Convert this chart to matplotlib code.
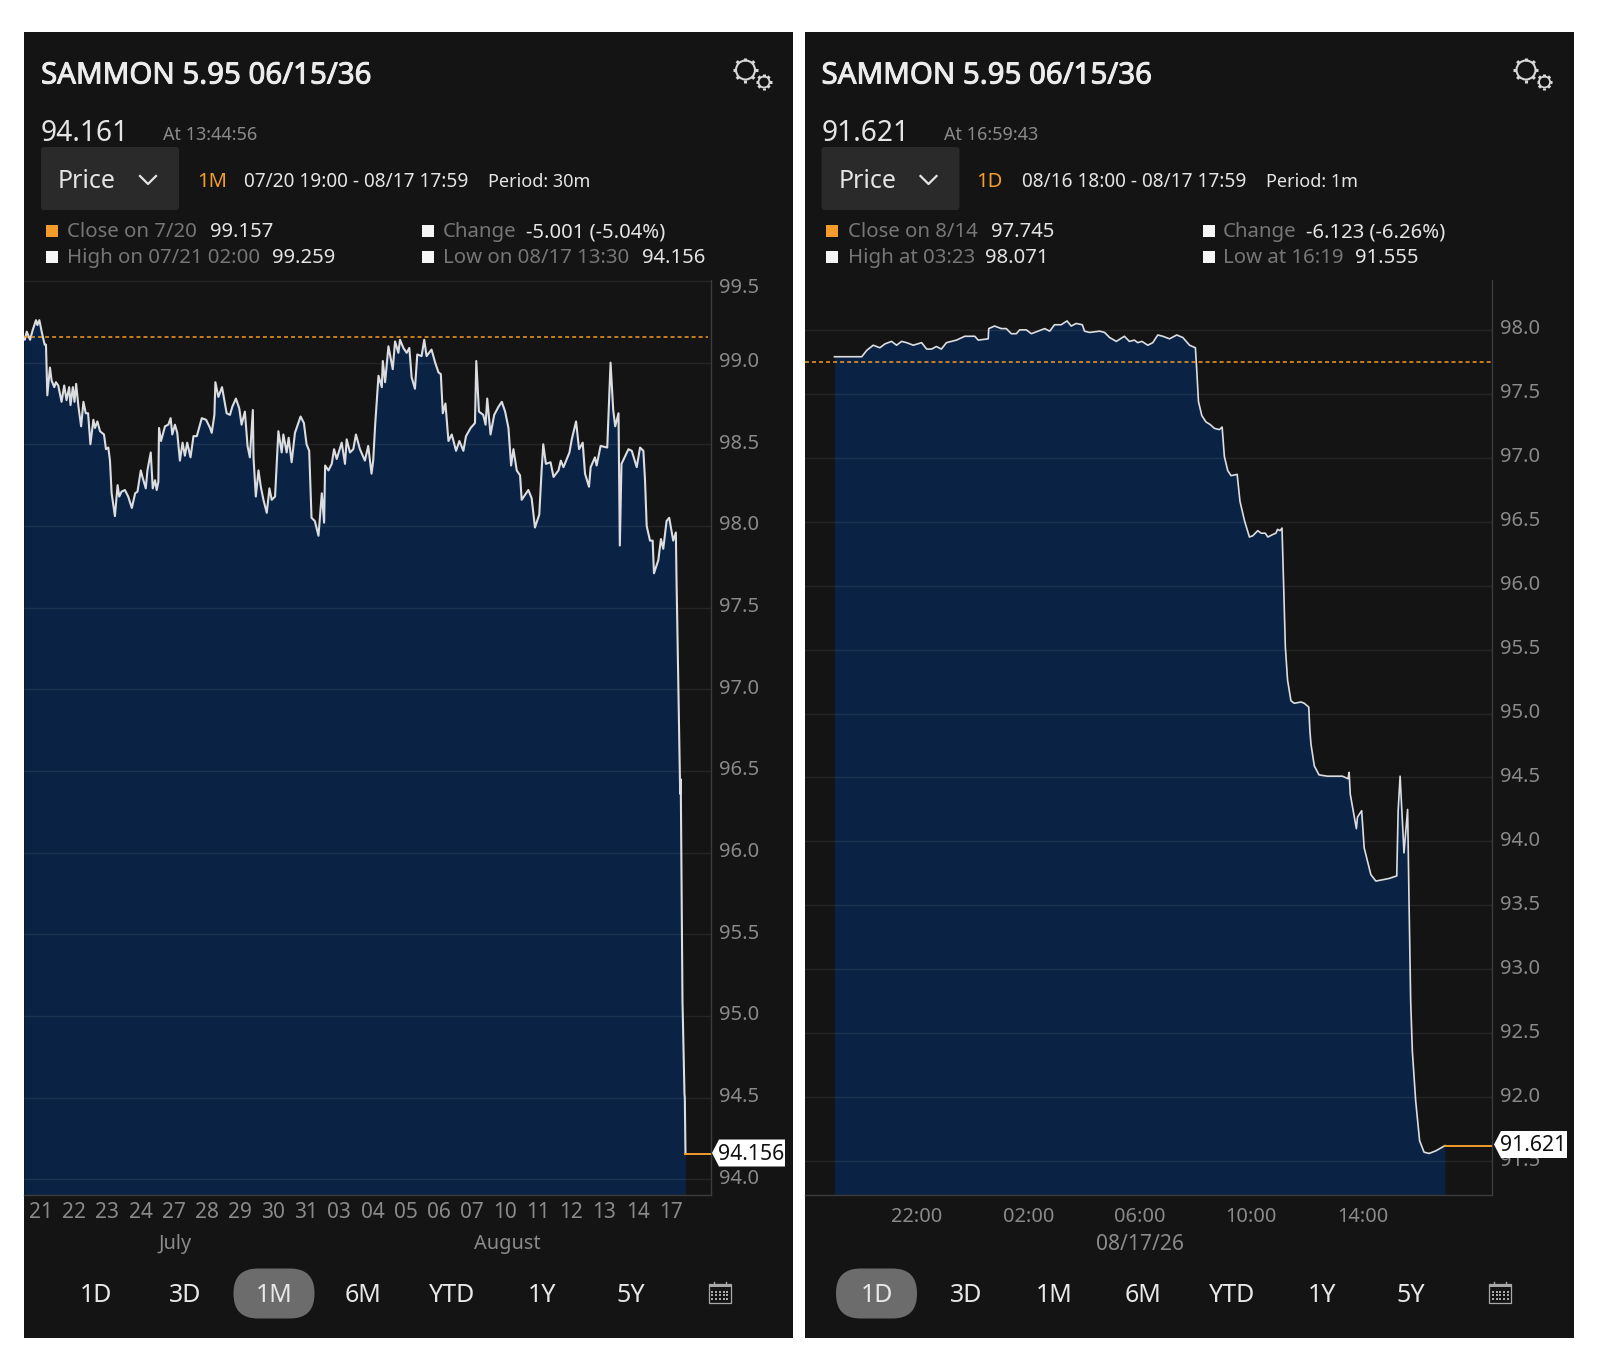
#!/usr/bin/env python3
"""Two dark price-chart screenshots of the SAMMON 5.95 06/15/36 bond."""

import matplotlib

matplotlib.use("Agg")
import matplotlib.patheffects as pe
import matplotlib.pyplot as plt
import numpy as np
from matplotlib.patches import Circle, FancyBboxPatch, Polygon, Rectangle
from matplotlib.transforms import ScaledTranslation

W, H = 1608, 1370

# 1M panel: x is the trading day counted from the "21" tick
month_days = [
    -0.51, -0.49, -0.43, -0.33, -0.25, -0.15, -0.11, -0.05, 0.03, 0.11, 0.15, 0.19, 0.27, 0.32, 0.40, 0.45,
    0.52, 0.62, 0.70, 0.77, 0.85, 0.89, 0.96, 1.01, 1.06, 1.13, 1.21, 1.28, 1.35, 1.42, 1.49, 1.58,
    1.63, 1.70, 1.78, 1.90, 1.96, 2.03, 2.08, 2.13, 2.23, 2.31, 2.36, 2.43, 2.53, 2.63, 2.74, 2.84,
    2.91, 3.01, 3.06, 3.16, 3.21, 3.31, 3.37, 3.44, 3.49, 3.54, 3.56, 3.62, 3.74, 3.84, 3.91, 3.96,
    4.04, 4.11, 4.19, 4.27, 4.34, 4.41, 4.51, 4.60, 4.70, 4.85, 4.98, 5.10, 5.15, 5.23, 5.26, 5.35,
    5.46, 5.52, 5.60, 5.70, 5.77, 5.88, 5.98, 6.05, 6.15, 6.23, 6.30, 6.39, 6.41, 6.48, 6.56, 6.63,
    6.71, 6.81, 6.89, 6.96, 7.06, 7.16, 7.26, 7.31, 7.41, 7.47, 7.56, 7.66, 7.83, 7.93, 8.01, 8.09,
    8.16, 8.26, 8.37, 8.47, 8.54, 8.57, 8.67, 8.77, 8.84, 8.92, 9.07, 9.17, 9.22, 9.32, 9.42, 9.50,
    9.62, 9.77, 9.87, 9.97, 10.02, 10.08, 10.18, 10.28, 10.31, 10.38, 10.48, 10.61, 10.68, 10.78, 10.83, 10.93,
    11.03, 11.11, 11.18, 11.28, 11.35, 11.48, 11.56, 11.63, 11.78, 11.89, 11.99, 12.06, 12.12, 12.20, 12.29, 12.39,
    12.52, 12.62, 12.74, 12.82, 12.96, 13.09, 13.13, 13.21, 13.34, 13.41, 13.46, 13.56, 13.67, 13.80, 13.90, 14.00,
    14.10, 14.18, 14.25, 14.35, 14.45, 14.50, 14.70, 14.80, 14.90, 15.03, 15.10, 15.15, 15.23, 15.37, 15.46, 15.61,
    15.68, 15.76, 15.94, 16.01, 16.14, 16.23, 16.34, 16.41, 16.53, 16.58, 16.71, 16.76, 16.88, 17.08, 17.18, 17.26,
    17.32, 17.42, 17.46, 17.51, 17.72, 17.82, 17.97, 18.07, 18.17, 18.22, 18.27, 18.37, 18.45, 18.49, 18.62, 18.70,
    18.77, 18.87, 18.95, 19.07, 19.15, 19.17, 19.19, 19.28, 19.29, 19.30, 19.35, 19.36, 19.41, 19.42, 19.44,
]
month_prices = [
    99.15, 99.14, 99.19, 99.14, 99.20, 99.26, 99.23, 99.26, 99.18, 99.11, 99.11, 98.80, 98.97, 98.89, 98.85, 98.88,
    98.86, 98.76, 98.86, 98.77, 98.85, 98.74, 98.85, 98.76, 98.87, 98.73, 98.61, 98.76, 98.69, 98.69, 98.50, 98.65,
    98.60, 98.64, 98.58, 98.56, 98.47, 98.48, 98.40, 98.20, 98.06, 98.25, 98.18, 98.21, 98.22, 98.18, 98.11, 98.20,
    98.21, 98.34, 98.30, 98.23, 98.34, 98.45, 98.23, 98.28, 98.22, 98.27, 98.60, 98.52, 98.61, 98.62, 98.66, 98.56,
    98.62, 98.57, 98.40, 98.51, 98.43, 98.51, 98.42, 98.55, 98.55, 98.66, 98.65, 98.60, 98.57, 98.68, 98.88, 98.79,
    98.85, 98.78, 98.69, 98.68, 98.73, 98.78, 98.72, 98.62, 98.70, 98.49, 98.42, 98.71, 98.42, 98.18, 98.34, 98.24,
    98.16, 98.08, 98.23, 98.16, 98.18, 98.58, 98.45, 98.56, 98.45, 98.54, 98.39, 98.57, 98.67, 98.63, 98.50, 98.46,
    98.05, 98.03, 97.94, 98.20, 98.02, 98.37, 98.34, 98.38, 98.47, 98.41, 98.51, 98.38, 98.53, 98.45, 98.47, 98.56,
    98.47, 98.40, 98.49, 98.32, 98.40, 98.62, 98.92, 98.85, 99.01, 98.88, 99.10, 98.96, 99.13, 99.06, 99.14, 99.09,
    99.06, 99.09, 98.91, 98.84, 99.05, 99.04, 99.14, 99.04, 99.08, 99.00, 98.94, 98.93, 98.69, 98.75, 98.52, 98.56,
    98.46, 98.52, 98.46, 98.55, 98.60, 98.63, 99.01, 98.70, 98.68, 98.62, 98.78, 98.56, 98.68, 98.73, 98.76, 98.70,
    98.60, 98.37, 98.47, 98.34, 98.31, 98.16, 98.22, 98.17, 97.99, 98.07, 98.34, 98.50, 98.38, 98.39, 98.30, 98.34,
    98.40, 98.36, 98.45, 98.53, 98.64, 98.47, 98.51, 98.32, 98.24, 98.36, 98.42, 98.37, 98.49, 98.48, 99.00, 98.71,
    98.61, 98.69, 97.88, 98.38, 98.47, 98.46, 98.36, 98.48, 98.46, 98.28, 98.00, 97.91, 97.91, 97.71, 97.79, 97.92,
    97.86, 98.03, 98.05, 97.91, 97.96, 97.67, 97.44, 96.36, 96.45, 96.38, 95.08, 95.00, 94.52, 94.50, 94.156,
]
month_ticks = [21, 22, 23, 24, 27, 28, 29, 30, 31, 3, 4, 5, 6, 7, 10, 11, 12, 13, 14, 17]
month_yticks = [94.0, 94.5, 95.0, 95.5, 96.0, 96.5, 97.0, 97.5, 98.0, 98.5, 99.0, 99.5]
month_close = 99.157
month_last = 94.156

# 1D panel: x is hours after 18:00
day_hours = [
    1.04, 2.02, 2.20, 2.43, 2.67, 2.85, 3.09, 3.27, 3.45, 3.63, 3.87, 4.17, 4.35, 4.53, 4.70, 4.88,
    5.06, 5.24, 5.42, 5.72, 6.08, 6.20, 6.56, 6.58, 6.79, 7.03, 7.21, 7.39, 7.57, 7.69, 7.93, 8.11,
    8.35, 8.59, 8.77, 8.94, 9.18, 9.39, 9.54, 9.72, 9.94, 10.02, 10.20, 10.56, 10.74, 10.92, 11.16, 11.45,
    11.63, 11.81, 11.93, 12.08, 12.29, 12.47, 12.65, 12.83, 13.07, 13.33, 13.55, 13.79, 14.00, 14.05, 14.11, 14.23,
    14.38, 14.53, 14.68, 14.86, 14.96, 15.04, 15.16, 15.28, 15.50, 15.60, 15.76, 15.94, 16.06, 16.24, 16.36, 16.51,
    16.60, 16.78, 16.89, 16.95, 17.04, 17.11, 17.17, 17.23, 17.31, 17.43, 17.55, 17.79, 17.91, 18.07, 18.11, 18.15,
    18.27, 18.44, 18.74, 19.28, 19.48, 19.52, 19.56, 19.78, 19.82, 19.97, 20.06, 20.30, 20.48, 20.72, 20.95, 21.23,
    21.28, 21.35, 21.49, 21.62, 21.67, 21.73, 21.79, 21.91, 22.05, 22.21, 22.39, 22.63, 22.96,
]
day_prices = [
    97.79, 97.79, 97.84, 97.88, 97.86, 97.89, 97.91, 97.88, 97.91, 97.90, 97.88, 97.90, 97.85, 97.85, 97.87, 97.85,
    97.90, 97.91, 97.92, 97.95, 97.95, 97.92, 97.93, 98.01, 98.03, 98.01, 98.01, 97.97, 97.97, 98.00, 98.00, 97.97,
    97.99, 98.01, 97.99, 98.04, 98.04, 98.07, 98.03, 98.05, 98.04, 97.99, 97.98, 97.99, 97.98, 97.94, 97.91, 97.95,
    97.91, 97.92, 97.90, 97.91, 97.88, 97.90, 97.96, 97.95, 97.93, 97.96, 97.94, 97.88, 97.86, 97.68, 97.44, 97.33,
    97.28, 97.26, 97.23, 97.22, 97.24, 97.01, 96.90, 96.86, 96.87, 96.66, 96.51, 96.38, 96.39, 96.43, 96.41, 96.41,
    96.38, 96.40, 96.41, 96.44, 96.43, 96.45, 95.99, 95.52, 95.26, 95.10, 95.08, 95.09, 95.08, 95.05, 94.87, 94.76,
    94.59, 94.52, 94.51, 94.51, 94.49, 94.54, 94.37, 94.10, 94.19, 94.24, 93.95, 93.74, 93.69, 93.70, 93.71, 93.73,
    94.24, 94.51, 93.91, 94.25, 93.54, 92.75, 92.36, 91.97, 91.66, 91.57, 91.56, 91.58, 91.621,
]
day_ticks = [4, 8, 12, 16, 20]
day_tick_labels = ["22:00", "02:00", "06:00", "10:00", "14:00"]
day_yticks = [91.5, 92.0, 92.5, 93.0, 93.5, 94.0, 94.5, 95.0, 95.5, 96.0, 96.5, 97.0, 97.5, 98.0]
day_close = 97.745
day_last = 91.621

buttons = ["1D", "3D", "1M", "6M", "YTD", "1Y", "5Y"]

BG = "#141414"
FILL = "#0a2344"
LINE = "#dcdde0"
ORANGE = "#f39c2b"
GREY = "#8a8a8a"
LABEL = "#767676"
TEXT = "#e4e4e4"

plt.rcParams["font.family"] = ["Noto Sans", "DejaVu Sans"]

fig = plt.figure(figsize=(W / 100, H / 100), dpi=100, facecolor="white")

# page-sized axes in pixels for the app chrome round the charts
ui = fig.add_axes([0, 0, 1, 1], zorder=0)
ui.set_xlim(0, W)
ui.set_ylim(H, 0)
ui.axis("off")

# same thing on top, for what sits over the charts
top = fig.add_axes([0, 0, 1, 1], zorder=5)
top.set_xlim(0, W)
top.set_ylim(H, 0)
top.axis("off")
top.patch.set_alpha(0)


def put(x, y, s, size=13.3, color=TEXT, ha="left", **kw):
    return ui.text(x, y, s, fontsize=size, color=color, ha=ha, va="center", **kw)


def gear(cx, cy, r, teeth, tooth, lw):
    ui.add_patch(Circle((cx, cy), r, fill=False, ec="#d8d8d8", lw=lw))
    for a in np.arange(teeth) * 2 * np.pi / teeth:
        ui.plot([cx + r * np.cos(a), cx + (r + tooth) * np.cos(a)],
                [cy + r * np.sin(a), cy + (r + tooth) * np.sin(a)],
                color="#d8d8d8", lw=2.2, solid_capstyle="butt")


def calendar(cx, cy):
    ui.add_patch(Rectangle((cx - 11, cy - 9), 22, 19, fill=False, ec="#a8a8a8", lw=0.9))
    ui.add_patch(Rectangle((cx - 11, cy - 9), 22, 3, fc="#a8a8a8", ec="none"))
    for row in range(3):
        for col in range(5):
            ui.add_patch(Rectangle((cx - 8.5 + col * 3.7, cy - 2.5 + row * 3.7), 2, 2, fc="#a8a8a8", ec="none"))
    ui.plot([cx - 6, cx - 6], [cy - 11, cy - 8], color="#a8a8a8", lw=1)
    ui.plot([cx + 6, cx + 6], [cy - 11, cy - 8], color="#a8a8a8", lw=1)


def chrome(panel_x, dx, quote, at, span, span_x, dates, dates_x, period, period_x, selected, legend):
    ui.add_patch(Rectangle((panel_x, 32), 769, 1306, fc=BG, ec="none"))
    title = put(41 + dx, 76, "SAMMON 5.95 06/15/36", size=21.2, color="#ececec")
    title.set_path_effects([pe.withStroke(linewidth=0.7, foreground="#ececec")])
    put(41 + dx, 133, quote, size=20.3)
    put(163.5 + dx, 135, at, size=13, color=GREY)
    gear(745.5 + dx, 70, 9.5, 8, 3, 1.5)
    gear(764 + dx, 82, 5.5, 8, 2.4, 1.3)

    ui.add_patch(FancyBboxPatch((43 + dx, 149), 134, 59, boxstyle="round,pad=2,rounding_size=3", fc="#2a2a2a", ec="none"))
    put(58 + dx, 181, "Price", size=18)
    ui.plot([140 + dx, 148 + dx, 156 + dx], [176, 184, 176], color=TEXT, lw=1.6)
    put(span_x, 182, span, size=14.5, color=ORANGE)
    put(dates_x, 182, dates, size=13.7)
    put(period_x, 182, period, size=13)

    for sx, sy, key, kx, val, vx, orange in legend:
        ui.add_patch(Rectangle((sx, sy - 6), 12, 12, fc=ORANGE if orange else "#f5f5f5", ec="none"))
        put(kx, sy + 1, key, size=14.7, color=LABEL)
        put(vx, sy + 1, val, size=14.6)

    centres = [96, 185.5, 274, 363, 452, 542, 630.5]
    for name, cx in zip(buttons, centres):
        if name == selected:
            ui.add_patch(FancyBboxPatch((cx - 16 + dx, 1293), 32, 1, boxstyle="round,pad=24.5,rounding_size=24.5",
                                        fc="#6c6c6c", ec="none"))
        put(cx + dx, 1296, name, size=18, color="#e8e8e8", ha="center")
    calendar(720 + dx, 1293)


def chart(x0, x1, y0, y1, xlim, ylim, xs, ys, close, last, close_end, yticks, lw):
    ax = fig.add_axes([x0 / W, 1 - y1 / H, (x1 - x0) / W, (y1 - y0) / H], zorder=2)
    ax.patch.set_alpha(0)
    ax.set_xlim(*xlim)
    ax.set_ylim(*ylim)
    ax.fill_between(xs, ys, ylim[0], color=FILL, lw=0, zorder=1)
    ax.plot(xs, ys, color=LINE, lw=lw, zorder=3, solid_joinstyle="round")
    ax.plot([xs[-1], xlim[1]], [last, last], color=ORANGE, lw=1.4, zorder=3)
    ax.plot([xlim[0], close_end], [close, close], color=ORANGE, lw=1.1, ls=(0, (2.6, 2)), zorder=4)
    ax.set_yticks(yticks)
    ax.set_yticklabels([f"{t:.1f}" for t in yticks], fontsize=14.5, color=GREY)
    ax.yaxis.tick_right()
    ax.tick_params(axis="y", length=0, pad=6)
    ax.tick_params(axis="x", length=0, colors=GREY)
    # price labels sit a little above their gridlines, the 99.5 one is pushed inside the plot
    for lab, t in zip(ax.get_yticklabels(), yticks):
        shift = -5 if t == 99.5 else 3
        lab.set_transform(lab.get_transform() + ScaledTranslation(0, shift / 100, fig.dpi_scale_trans))
    ax.grid(axis="y", color="white", alpha=0.075, lw=1)
    ax.set_axisbelow(False)
    for side in ["top", "left"]:
        ax.spines[side].set_visible(False)
    for side in ["right", "bottom"]:
        ax.spines[side].set_color("#3c3c3c")
        ax.spines[side].set_linewidth(1)
    return ax


def price_tag(x0, x1, y, s, size):
    top.add_patch(Polygon([(x0, y), (x0 + 7, y - 13.5), (x1, y - 13.5), (x1, y + 13.5), (x0 + 7, y + 13.5)],
                          closed=True, fc="white", ec="none"))
    top.text((x0 + x1) / 2 + 3, y + 1, s, fontsize=size, color="#111111", ha="center", va="center")


chrome(
    24, 0, "94.161", "At 13:44:56", "1M", 197, "07/20 19:00 - 08/17 17:59", 244, "Period: 30m", 488, "1M",
    [
        (46, 231, "Close on 7/20", 67, "99.157", 210.5, True),
        (46, 257, "High on 07/21 02:00", 67, "99.259", 272, False),
        (422.5, 231, "Change", 443, "-5.001 (-5.04%)", 526, False),
        (422.5, 257, "Low on 08/17 13:30", 443, "94.156", 642.5, False),
    ],
)
chrome(
    805, 780.5, "91.621", "At 16:59:43", "1D", 976, "08/16 18:00 - 08/17 17:59", 1022, "Period: 1m", 1266, "1D",
    [
        (826.5, 231, "Close on 8/14", 848, "97.745", 991.5, True),
        (826.5, 257, "High at 03:23", 848, "98.071", 985.5, False),
        (1203.5, 231, "Change", 1223, "-6.123 (-6.26%)", 1306, False),
        (1203.5, 257, "Low at 16:19", 1223, "91.555", 1355, False),
    ],
)

ax1 = chart(24, 711, 280, 1195, (-0.513, 20.21), (93.903, 99.506), month_days, month_prices,
            month_close, month_last, 20.13, month_yticks, 1.5)
ax1.set_xticks(range(len(month_ticks)))
ax1.set_xticklabels([f"{d:02d}" for d in month_ticks], fontsize=15)
ax1.tick_params(axis="x", pad=5)
put(175, 1244, "July", size=14.3, color=GREY, ha="center")
put(507, 1244, "August", size=14.3, color=GREY, ha="center")
price_tag(712, 785, 1153, "94.156", 15.3)

ax2 = chart(805.5, 1492, 280, 1195, (0, 24.65), (91.235, 98.39), day_hours, day_prices,
            day_close, day_last, 24.65, day_yticks, 1.2)
ax2.set_xticks(day_ticks)
ax2.set_xticklabels(day_tick_labels, fontsize=14.4)
ax2.tick_params(axis="x", pad=9)
put(1140, 1245, "08/17/26", size=15.2, color=GREY, ha="center")
price_tag(1494, 1567, 1144.5, "91.621", 15.3)

fig.savefig("out.png", dpi=100, facecolor="white")
